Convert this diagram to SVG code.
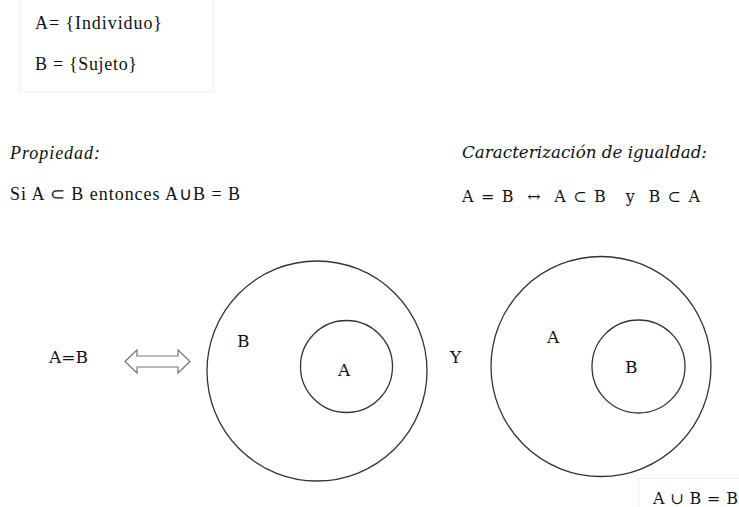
<svg xmlns="http://www.w3.org/2000/svg" width="739" height="507" viewBox="0 0 739 507">
<style>
text{font-family:"Liberation Serif","Times New Roman",serif;fill:#111;font-size:18px}
.it{font-style:italic}
.cam{font-family:"DejaVu Serif","Liberation Serif",serif;font-size:16px}
.lbl{font-family:"DejaVu Serif","Liberation Serif",serif;font-size:17px}
.set{fill:none;stroke:#333;stroke-width:1.3}
.box{fill:none;stroke:#f0f0f0;stroke-width:1}
</style>
<rect width="739" height="507" fill="#fff"/>
<g id="boxes">
<rect class="box" x="20.5" y="-1" width="193" height="93"/>
<rect class="box" x="638.5" y="478.5" width="110" height="40"/>
</g>
<g id="defs-text">
<text x="35" y="29" textLength="127">A= {Individuo}</text>
<text x="35" y="70" textLength="102">B = {Sujeto}</text>
</g>
<g id="propiedad">
<text class="it" x="10" y="159" textLength="90">Propiedad:</text>
<text x="10" y="200" textLength="230">Si A ⊂ B entonces A∪B = B</text>
</g>
<g id="caracterizacion">
<text class="cam it" x="462" y="158" textLength="245" lengthAdjust="spacingAndGlyphs">Caracterización de igualdad:</text>
<text class="cam" x="462" y="202" font-size="17" textLength="238" xml:space="preserve">A = B  ↔  A ⊂ B   y  B ⊂ A</text>
</g>
<g id="eq">
<text class="cam" x="49" y="363" textLength="39" lengthAdjust="spacingAndGlyphs">A=B</text>
</g>
<g id="connectors">
<polygon points="125,361.5 137,350 137,356 178,356 178,350 190,361.5 178,373 178,367 137,367 137,373" fill="#fff" stroke="#777" stroke-width="1.2"/>
</g>
<g id="diagram1">
<circle class="set" cx="317" cy="371" r="110"/>
<circle class="set" cx="346.5" cy="366.5" r="46"/>
<text class="lbl" x="237" y="347">B</text>
<text class="lbl" x="338" y="376">A</text>
</g>
<g id="y-label">
<text class="lbl" x="450" y="363" font-size="18">Y</text>
</g>
<g id="diagram2">
<circle class="set" cx="601" cy="366.5" r="110"/>
<circle class="set" cx="638.5" cy="366.5" r="46.5"/>
<text class="lbl" x="547" y="343">A</text>
<text class="lbl" x="625" y="373">B</text>
</g>
<g id="union">
<text class="cam" x="653" y="504" textLength="85" xml:space="preserve">A ∪ B = B</text>
</g>
</svg>
